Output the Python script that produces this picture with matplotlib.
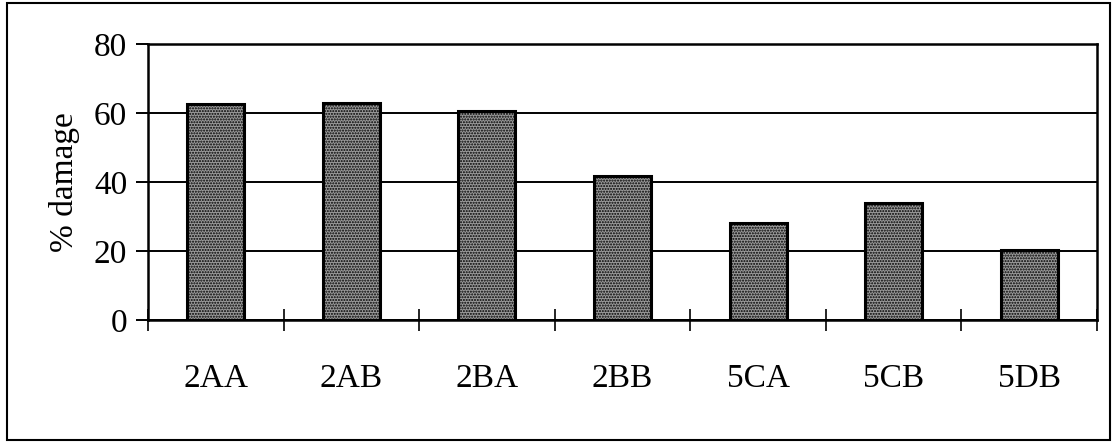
import numpy as np
import matplotlib
matplotlib.use("Agg")
import matplotlib.pyplot as plt
from matplotlib.patches import Rectangle

plt.rcParams['font.family'] = ['Liberation Serif', 'DejaVu Serif']

categories = ["2AA", "2AB", "2BA", "2BB", "5CA", "5CB", "5DB"]
damage = [62.6, 62.9, 60.6, 41.7, 28.1, 33.9, 20.3]

W, H = 1117, 443
fig = plt.figure(figsize=(W / 100, H / 100), dpi=100)
ax = fig.add_axes([148 / W, 1 - 320 / H, (1097 - 148) / W, (320 - 44) / H])

x = np.arange(len(categories))
plt.rcParams['hatch.linewidth'] = 1.0
ax.bar(x, damage, width=0.42, facecolor="#9a9a9a", edgecolor="black",
       hatch="......", linewidth=2.2, zorder=3)

ax.set_xlim(-0.5, len(categories) - 0.5)
ax.set_ylim(0, 80)
ax.set_yticks([0, 20, 40, 60, 80])
ax.yaxis.grid(True, color="black", linewidth=1.4, zorder=0)
ax.tick_params(axis="y", direction="out", length=9, width=1.4, labelsize=24, pad=6)

# category labels centred, ticks at boundaries
ax.set_xticks(x)
ax.set_xticklabels(categories)
ax.tick_params(axis="x", which="major", length=0, labelsize=24, pad=31)
ax.set_xticks(np.arange(-0.5, len(categories)), minor=True)
ax.tick_params(axis="x", which="minor", direction="inout", length=16, width=1.2)

for s in ax.spines.values():
    s.set_linewidth(1.8)

ax.set_ylabel("% damage", fontsize=24, labelpad=10)

fig.patches.append(Rectangle((7 / W, 1 - 440 / H), (1110 - 7) / W, (440 - 3) / H,
                             transform=fig.transFigure, fill=False,
                             edgecolor="black", linewidth=1.5))

fig.savefig("out.png", dpi=100)
